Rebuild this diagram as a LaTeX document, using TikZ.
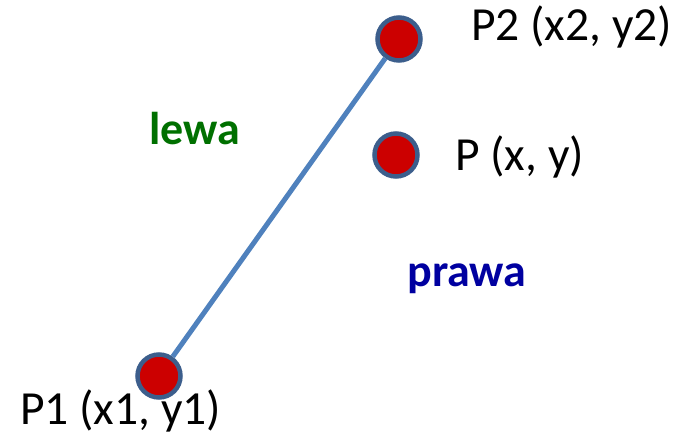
\documentclass[tikz,border=0pt]{standalone}
\usepackage{fontspec}
\setmainfont{Carlito}
\usetikzlibrary{positioning}
\definecolor{dotred}{RGB}{204,0,0}
\definecolor{dotrim}{RGB}{60,94,140}
\definecolor{segblue}{RGB}{79,129,189}
\definecolor{leftgreen}{RGB}{0,112,0}
\definecolor{rightblue}{RGB}{0,0,160}

\begin{document}
\begin{tikzpicture}[
    x=1pt, y=-1pt,
    pointdot/.style={circle, fill=dotred, draw=dotrim, line width=4.5pt, minimum size=43pt, inner sep=0pt},
    ptlabel/.style={anchor=west, inner sep=0pt, font=\fontsize{47.5}{52}\selectfont},
    sidelabel/.style={inner sep=0pt, font=\fontsize{46}{50}\selectfont\bfseries},
    segment/.style={segblue, line width=5pt}
]
\useasboundingbox (0,0) rectangle (683,441);

% the segment P1 -- P2
\node[pointdot] (p1) at (159,376) {};
\node[pointdot] (p2) at (399,39) {};
\node[pointdot] (p) at (396,155) {};
\draw[segment] (p1) -- (p2);

% Labels
\node[ptlabel] (p2lbl) at (471,27) {P2 (x2, y2)};
\node[ptlabel] (plbl) at (455,157) {P (x, y)};
\node[ptlabel] (p1lbl) at (20,411) {P1 (x1, y1)};
\node[sidelabel, text=leftgreen] (lewa) at (195,129) {lewa};
\node[sidelabel, text=rightblue] (prawa) at (467,279) {prawa};

\end{tikzpicture}
\end{document}
